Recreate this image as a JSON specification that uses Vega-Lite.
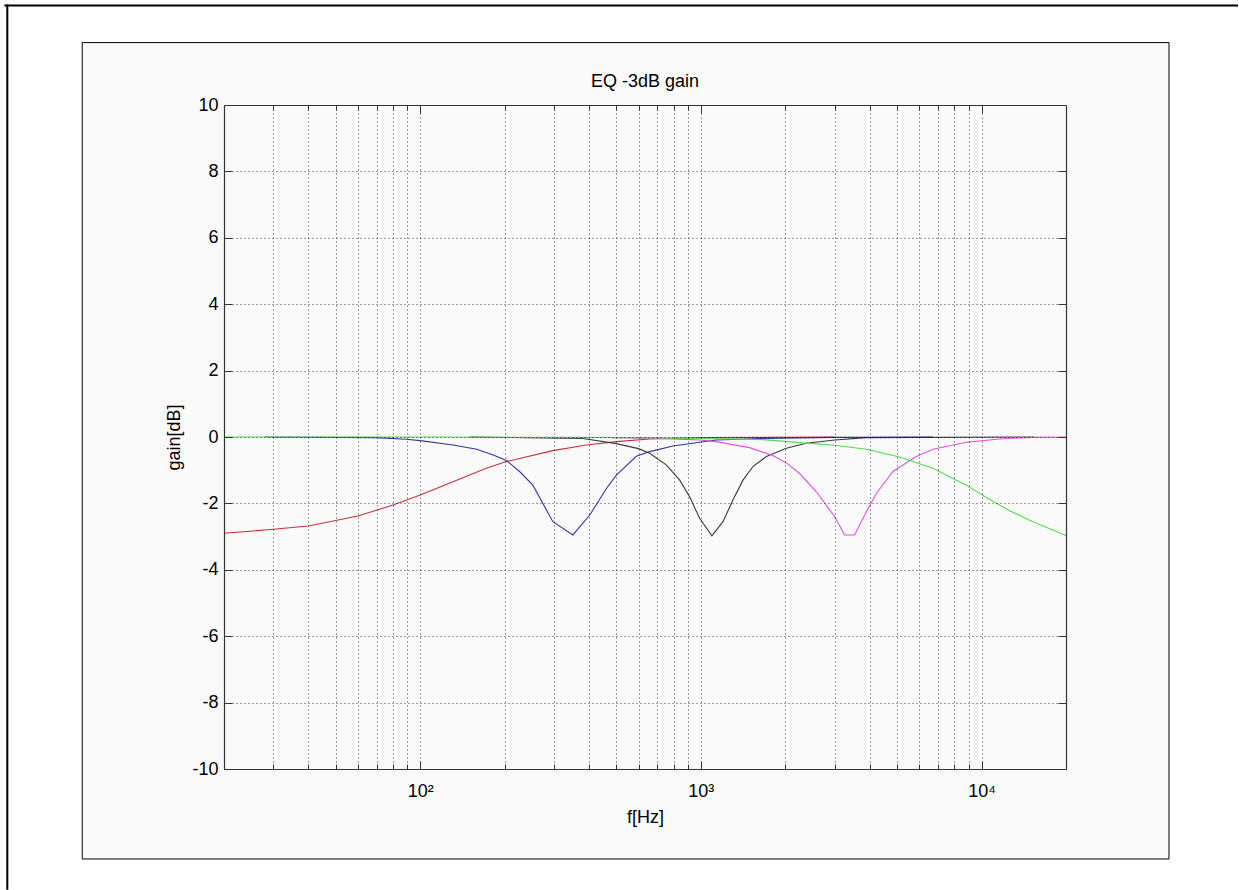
{
  "$schema": "https://vega.github.io/schema/vega-lite/v6.json",
  "width": 842,
  "height": 664,
  "autosize": {"type": "none"},
  "padding": {"left": 224, "top": 105, "right": 173, "bottom": 121},
  "background": "#ffffff",
  "config": {
    "view": {"stroke": null},
    "font": "Liberation Sans",
    "axis": {
      "labelFont": "Liberation Sans",
      "titleFont": "Liberation Sans",
      "labelFontSize": 18,
      "titleFontSize": 18,
      "labelColor": "#000000",
      "titleColor": "#000000",
      "titleFontWeight": "normal",
      "domainColor": "#333333",
      "domainWidth": 1.2,
      "tickColor": "#333333",
      "tickWidth": 1,
      "gridColor": "#000000",
      "gridDash": [1, 3],
      "gridOpacity": 0.75,
      "gridWidth": 1,
      "labelFlush": false,
      "labelOverlap": false
    }
  },
  "title": {
    "text": "EQ -3dB gain",
    "font": "Liberation Sans",
    "fontSize": 18,
    "fontWeight": "normal",
    "color": "#000000",
    "anchor": "middle",
    "frame": "group",
    "baseline": "alphabetic",
    "offset": -101.6
  },
  "datasets": {
    "curves": [
      {"s": "lowshelf", "f": 20, "g": -2.90},
      {"s": "lowshelf", "f": 30, "g": -2.78},
      {"s": "lowshelf", "f": 40, "g": -2.68},
      {"s": "lowshelf", "f": 60, "g": -2.38},
      {"s": "lowshelf", "f": 80, "g": -2.05},
      {"s": "lowshelf", "f": 100, "g": -1.75},
      {"s": "lowshelf", "f": 131, "g": -1.35},
      {"s": "lowshelf", "f": 172, "g": -0.94},
      {"s": "lowshelf", "f": 203, "g": -0.74},
      {"s": "lowshelf", "f": 297, "g": -0.41},
      {"s": "lowshelf", "f": 391, "g": -0.24},
      {"s": "lowshelf", "f": 500, "g": -0.14},
      {"s": "lowshelf", "f": 657, "g": -0.06},
      {"s": "lowshelf", "f": 990, "g": -0.02},
      {"s": "lowshelf", "f": 3000, "g": 0},

      {"s": "peak350", "f": 28, "g": 0},
      {"s": "peak350", "f": 69, "g": -0.02},
      {"s": "peak350", "f": 89, "g": -0.07},
      {"s": "peak350", "f": 100, "g": -0.11},
      {"s": "peak350", "f": 131, "g": -0.24},
      {"s": "peak350", "f": 159, "g": -0.37},
      {"s": "peak350", "f": 182, "g": -0.54},
      {"s": "peak350", "f": 203, "g": -0.71},
      {"s": "peak350", "f": 226, "g": -1.04},
      {"s": "peak350", "f": 252, "g": -1.45},
      {"s": "peak350", "f": 297, "g": -2.55},
      {"s": "peak350", "f": 350, "g": -2.95},
      {"s": "peak350", "f": 402, "g": -2.35},
      {"s": "peak350", "f": 461, "g": -1.55},
      {"s": "peak350", "f": 500, "g": -1.15},
      {"s": "peak350", "f": 589, "g": -0.58},
      {"s": "peak350", "f": 657, "g": -0.44},
      {"s": "peak350", "f": 796, "g": -0.27},
      {"s": "peak350", "f": 990, "g": -0.16},
      {"s": "peak350", "f": 1135, "g": -0.09},
      {"s": "peak350", "f": 1711, "g": -0.04},
      {"s": "peak350", "f": 3000, "g": -0.01},
      {"s": "peak350", "f": 6700, "g": 0},

      {"s": "peak1100", "f": 150, "g": 0},
      {"s": "peak1100", "f": 375, "g": -0.04},
      {"s": "peak1100", "f": 500, "g": -0.2},
      {"s": "peak1100", "f": 600, "g": -0.35},
      {"s": "peak1100", "f": 657, "g": -0.49},
      {"s": "peak1100", "f": 753, "g": -0.84},
      {"s": "peak1100", "f": 841, "g": -1.3},
      {"s": "peak1100", "f": 912, "g": -1.8},
      {"s": "peak1100", "f": 990, "g": -2.45},
      {"s": "peak1100", "f": 1095, "g": -2.98},
      {"s": "peak1100", "f": 1199, "g": -2.55},
      {"s": "peak1100", "f": 1301, "g": -1.9},
      {"s": "peak1100", "f": 1413, "g": -1.3},
      {"s": "peak1100", "f": 1533, "g": -0.89},
      {"s": "peak1100", "f": 1711, "g": -0.59},
      {"s": "peak1100", "f": 2017, "g": -0.34},
      {"s": "peak1100", "f": 2376, "g": -0.19},
      {"s": "peak1100", "f": 3000, "g": -0.09},
      {"s": "peak1100", "f": 3887, "g": -0.02},
      {"s": "peak1100", "f": 15400, "g": 0},

      {"s": "peak3400", "f": 480, "g": -0.02},
      {"s": "peak3400", "f": 700, "g": -0.04},
      {"s": "peak3400", "f": 990, "g": -0.09},
      {"s": "peak3400", "f": 1135, "g": -0.14},
      {"s": "peak3400", "f": 1492, "g": -0.32},
      {"s": "peak3400", "f": 1806, "g": -0.56},
      {"s": "peak3400", "f": 2017, "g": -0.78},
      {"s": "peak3400", "f": 2249, "g": -1.1},
      {"s": "peak3400", "f": 2580, "g": -1.65},
      {"s": "peak3400", "f": 3000, "g": -2.4},
      {"s": "peak3400", "f": 3254, "g": -2.95},
      {"s": "peak3400", "f": 3532, "g": -2.95},
      {"s": "peak3400", "f": 3887, "g": -2.25},
      {"s": "peak3400", "f": 4220, "g": -1.7},
      {"s": "peak3400", "f": 4835, "g": -1.04},
      {"s": "peak3400", "f": 5858, "g": -0.59},
      {"s": "peak3400", "f": 6713, "g": -0.37},
      {"s": "peak3400", "f": 8826, "g": -0.16},
      {"s": "peak3400", "f": 11600, "g": -0.06},
      {"s": "peak3400", "f": 15200, "g": -0.01},
      {"s": "peak3400", "f": 20000, "g": 0},

      {"s": "highshelf", "f": 20, "g": 0},
      {"s": "highshelf", "f": 100, "g": 0},
      {"s": "highshelf", "f": 300, "g": -0.01},
      {"s": "highshelf", "f": 600, "g": -0.02},
      {"s": "highshelf", "f": 990, "g": -0.04},
      {"s": "highshelf", "f": 1664, "g": -0.08},
      {"s": "highshelf", "f": 2249, "g": -0.17},
      {"s": "highshelf", "f": 3000, "g": -0.25},
      {"s": "highshelf", "f": 3887, "g": -0.37},
      {"s": "highshelf", "f": 5108, "g": -0.6},
      {"s": "highshelf", "f": 6713, "g": -0.94},
      {"s": "highshelf", "f": 8826, "g": -1.45},
      {"s": "highshelf", "f": 10400, "g": -1.82},
      {"s": "highshelf", "f": 12590, "g": -2.22},
      {"s": "highshelf", "f": 15240, "g": -2.55},
      {"s": "highshelf", "f": 20000, "g": -2.97}
    ]
  },
  "data": {"name": "curves"},
  "layer": [
    {
      "data": {"values": [{"part": "page frame left"}]},
      "mark": {"type": "rule", "color": "#000000", "strokeWidth": 2},
      "encoding": {
        "x": {
          "datum": 3.38, "type": "quantitative",
          "scale": {"type": "log", "domain": [20, 20000], "nice": false},
          "axis": {
            "orient": "bottom",
            "zindex": 2,
            "values": [100, 1000, 10000],
            "labelExpr": "datum.value == 100 ? '10²' : datum.value == 1000 ? '10³' : '10⁴'",
            "labelAlign": "center",
            "labelBaseline": "top",
            "tickSize": -8,
            "labelPadding": 21,
            "grid": true,
            "domain": true,
            "title": "f[Hz]",
            "titlePadding": 8
          }
        },
        "y": {
          "datum": 13.03, "type": "quantitative",
          "scale": {"domain": [-10, 10], "nice": false, "zero": false},
          "axis": {
            "orient": "left",
            "zindex": 2,
            "values": [-10, -8, -6, -4, -2, 0, 2, 4, 6, 8, 10],
            "labelExpr": "'' + datum.value",
            "tickSize": -8,
            "labelPadding": 14,
            "grid": true,
            "domain": true,
            "title": "gain[dB]",
            "titlePadding": 8
          }
        },
        "y2": {"datum": -13.64}
      }
    },
    {
      "data": {"values": [{"part": "page frame top"}]},
      "mark": {"type": "rule", "color": "#000000", "strokeWidth": 2},
      "encoding": {
        "x": {"datum": 3.3, "type": "quantitative", "scale": {"type": "log", "domain": [20, 20000], "nice": false}, "axis": null},
        "x2": {"datum": 82000},
        "y": {"datum": 13.0, "type": "quantitative", "scale": {"domain": [-10, 10], "nice": false, "zero": false}, "axis": null}
      }
    },
    {
      "data": {"values": [{"part": "figure box"}]},
      "mark": {"type": "rect", "fill": "#fafafa", "stroke": "#000000", "strokeWidth": 1},
      "encoding": {
        "x": {
          "datum": 6.25, "type": "quantitative",
          "scale": {"type": "log", "domain": [20, 20000], "nice": false},
          "axis": {
            "orient": "top",
            "zindex": 2,
            "values": [100, 1000, 10000],
            "labels": false,
            "tickSize": -8,
            "grid": false,
            "domain": true,
            "title": null
          }
        },
        "x2": {"datum": 46560},
        "y": {
          "datum": 11.88, "type": "quantitative",
          "scale": {"domain": [-10, 10], "nice": false, "zero": false},
          "axis": {
            "orient": "right",
            "zindex": 2,
            "values": [-10, -8, -6, -4, -2, 0, 2, 4, 6, 8, 10],
            "labels": false,
            "tickSize": -8,
            "grid": false,
            "domain": true,
            "title": null
          }
        },
        "y2": {"datum": -12.71}
      }
    },
    {
      "transform": [{"filter": "datum.s == 'lowshelf'"}],
      "mark": {"type": "line", "color": "#c8303c", "strokeWidth": 1.1},
      "encoding": {
        "x": {
          "field": "f", "type": "quantitative",
          "scale": {"type": "log", "domain": [20, 20000], "nice": false},
          "axis": {
            "orient": "bottom",
            "zindex": 2,
            "values": [30, 40, 50, 60, 70, 80, 90, 200, 300, 400, 500, 600, 700, 800, 900, 2000, 3000, 4000, 5000, 6000, 7000, 8000, 9000],
            "labels": false,
            "tickSize": -5,
            "grid": true,
            "domain": false,
            "title": null
          }
        },
        "y": {"field": "g", "type": "quantitative", "scale": {"domain": [-10, 10], "nice": false, "zero": false}, "axis": null}
      }
    },
    {
      "transform": [{"filter": "datum.s == 'peak350'"}],
      "mark": {"type": "line", "color": "#3434a6", "strokeWidth": 1.1},
      "encoding": {
        "x": {
          "field": "f", "type": "quantitative",
          "scale": {"type": "log", "domain": [20, 20000], "nice": false},
          "axis": {
            "orient": "top",
            "zindex": 2,
            "values": [30, 40, 50, 60, 70, 80, 90, 200, 300, 400, 500, 600, 700, 800, 900, 2000, 3000, 4000, 5000, 6000, 7000, 8000, 9000],
            "labels": false,
            "tickSize": -5,
            "grid": false,
            "domain": false,
            "title": null
          }
        },
        "y": {"field": "g", "type": "quantitative", "scale": {"domain": [-10, 10], "nice": false, "zero": false}, "axis": null}
      }
    },
    {
      "transform": [{"filter": "datum.s == 'peak1100'"}],
      "mark": {"type": "line", "color": "#3a3a3a", "strokeWidth": 1.1},
      "encoding": {
        "x": {"field": "f", "type": "quantitative", "scale": {"type": "log", "domain": [20, 20000], "nice": false}, "axis": null},
        "y": {"field": "g", "type": "quantitative", "scale": {"domain": [-10, 10], "nice": false, "zero": false}, "axis": null}
      }
    },
    {
      "transform": [{"filter": "datum.s == 'peak3400'"}],
      "mark": {"type": "line", "color": "#e050e0", "strokeWidth": 1.1},
      "encoding": {
        "x": {"field": "f", "type": "quantitative", "scale": {"type": "log", "domain": [20, 20000], "nice": false}, "axis": null},
        "y": {"field": "g", "type": "quantitative", "scale": {"domain": [-10, 10], "nice": false, "zero": false}, "axis": null}
      }
    },
    {
      "transform": [{"filter": "datum.s == 'highshelf'"}],
      "mark": {"type": "line", "color": "#50dc50", "strokeWidth": 1.1},
      "encoding": {
        "x": {"field": "f", "type": "quantitative", "scale": {"type": "log", "domain": [20, 20000], "nice": false}, "axis": null},
        "y": {"field": "g", "type": "quantitative", "scale": {"domain": [-10, 10], "nice": false, "zero": false}, "axis": null}
      }
    }
  ],
  "resolve": {"axis": {"x": "independent", "y": "independent"}}
}
